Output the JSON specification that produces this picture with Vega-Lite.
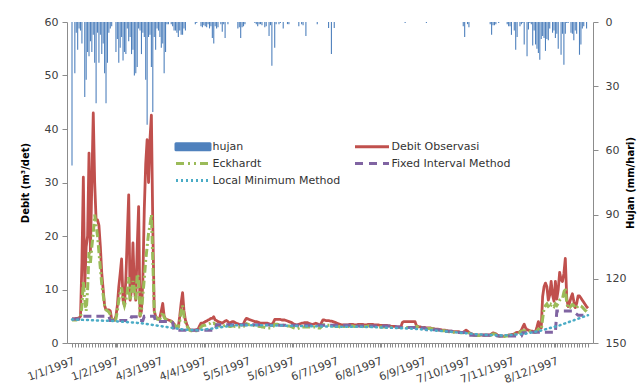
{
"$schema":"https://vega.github.io/schema/vega-lite/v6.json",
"width":526,"height":321,
"autosize":{"type":"none"},
"padding":{"left":67,"top":22,"right":48,"bottom":42},
"background":"white",
"config":{"view":{"stroke":null},"font":"DejaVu Sans","axis":{"labelFont":"DejaVu Sans","titleFont":"DejaVu Sans","grid":false,"domainColor":"#8c8c8c","tickColor":"#8c8c8c","labelColor":"#404040","labelFontSize":11}},
"data":{"values":[
{"d":1,"h":67,"o":4.5,"e":4.3,"f":4.5,"l":4.4},
{"d":2,"h":0,"o":4.5,"e":4.3,"f":4.5,"l":4.39},
{"d":3,"h":24,"o":4.5,"e":4.3,"f":4.5,"l":4.38},
{"d":4,"h":5,"o":4.6,"e":4.3,"f":4.5,"l":4.37},
{"d":5,"h":13,"o":4.6,"e":4.4,"f":4.5,"l":4.36},
{"d":6,"h":3,"o":4.7,"e":4.5,"f":4.5,"l":4.35},
{"d":7,"h":4,"o":5,"e":4.7,"f":4.5,"l":4.34},
{"d":8,"h":10,"o":15,"e":7,"f":4.5,"l":4.33},
{"d":9,"h":0,"o":31,"e":11.5,"f":5,"l":4.32},
{"d":10,"h":35,"o":10.5,"e":8,"f":5,"l":4.31},
{"d":11,"h":27,"o":18,"e":6,"f":5,"l":4.3},
{"d":12,"h":14,"o":20,"e":10,"f":5,"l":4.29},
{"d":13,"h":16,"o":35.5,"e":17,"f":5,"l":4.28},
{"d":14,"h":9,"o":17,"e":15,"f":5,"l":4.27},
{"d":15,"h":14,"o":30,"e":18,"f":5,"l":4.26},
{"d":16,"h":6,"o":43,"e":20.5,"f":5,"l":4.25},
{"d":17,"h":19,"o":30,"e":24,"f":5,"l":4.24},
{"d":18,"h":38,"o":23,"e":22,"f":5,"l":4.23},
{"d":19,"h":5,"o":23,"e":20,"f":5,"l":4.22},
{"d":20,"h":19,"o":22,"e":17,"f":5,"l":4.21},
{"d":21,"h":6,"o":18,"e":14,"f":5,"l":4.2},
{"d":22,"h":15,"o":13,"e":11,"f":5,"l":4.19},
{"d":23,"h":10,"o":10,"e":9,"f":5,"l":4.18},
{"d":24,"h":24,"o":7,"e":7,"f":5,"l":4.17},
{"d":25,"h":38,"o":6.2,"e":6.2,"f":5,"l":4.16},
{"d":26,"h":19,"o":6.2,"e":6,"f":5,"l":4.15},
{"d":27,"h":5,"o":6.2,"e":5.8,"f":5,"l":4.14},
{"d":28,"h":3,"o":6,"e":5.3,"f":4.2,"l":4.13},
{"d":29,"h":2,"o":4.5,"e":4.4,"f":4.2,"l":4.12},
{"d":30,"h":0,"o":4.3,"e":4.2,"f":4.2,"l":4.1},
{"d":31,"h":0,"o":4.3,"e":4.2,"f":4.2,"l":4.08},
{"d":32,"h":14,"o":5,"e":4.5,"f":4.2,"l":4.06},
{"d":33,"h":8,"o":7,"e":6,"f":4.2,"l":4.04},
{"d":34,"h":19,"o":10.5,"e":8,"f":4.2,"l":4.02},
{"d":35,"h":12,"o":13,"e":9.5,"f":4.2,"l":4},
{"d":36,"h":7,"o":15.7,"e":10.4,"f":4.2,"l":3.98},
{"d":37,"h":18,"o":8,"e":8,"f":4.2,"l":3.96},
{"d":38,"h":14,"o":7,"e":7,"f":4.2,"l":3.94},
{"d":39,"h":15,"o":12,"e":8,"f":4.2,"l":3.92},
{"d":40,"h":3,"o":20,"e":9.5,"f":4.2,"l":3.9},
{"d":41,"h":9,"o":27.7,"e":12.3,"f":4.2,"l":3.88},
{"d":42,"h":7,"o":8,"e":8,"f":4.2,"l":3.86},
{"d":43,"h":15,"o":10,"e":9.5,"f":4.9,"l":3.84},
{"d":44,"h":13,"o":18.7,"e":11.6,"f":4.9,"l":3.82},
{"d":45,"h":25,"o":10,"e":10,"f":4.9,"l":3.8},
{"d":46,"h":24,"o":8,"e":8,"f":4.9,"l":3.78},
{"d":47,"h":21,"o":18,"e":12.9,"f":4.9,"l":3.76},
{"d":48,"h":3,"o":25.5,"e":12,"f":4.9,"l":3.74},
{"d":49,"h":4,"o":5,"e":5,"f":4.2,"l":3.72},
{"d":50,"h":15,"o":6,"e":6,"f":4.2,"l":3.7},
{"d":51,"h":5,"o":12,"e":9,"f":4.2,"l":3.66},
{"d":52,"h":7,"o":25,"e":12,"f":5,"l":3.62},
{"d":53,"h":27,"o":33.5,"e":15.5,"f":5,"l":3.58},
{"d":54,"h":48,"o":38,"e":18,"f":5,"l":3.54},
{"d":55,"h":7,"o":30,"e":20.5,"f":5,"l":3.5},
{"d":56,"h":6,"o":38,"e":22,"f":5,"l":3.46},
{"d":57,"h":21,"o":42.6,"e":24,"f":5,"l":3.42},
{"d":58,"h":42,"o":22,"e":15.5,"f":5,"l":3.38},
{"d":59,"h":7,"o":6,"e":6,"f":5,"l":3.34},
{"d":60,"h":13,"o":5,"e":5,"f":4,"l":3.3},
{"d":61,"h":3,"o":4.5,"e":4.5,"f":4,"l":3.26},
{"d":62,"h":4,"o":4.5,"e":4.4,"f":4,"l":3.22},
{"d":63,"h":7,"o":4.8,"e":4.5,"f":4,"l":3.18},
{"d":64,"h":12,"o":6,"e":5,"f":4,"l":3.14},
{"d":65,"h":10,"o":7.4,"e":5.8,"f":4,"l":3.1},
{"d":66,"h":24,"o":5,"e":4.8,"f":4,"l":3.06},
{"d":67,"h":14,"o":4.5,"e":4.4,"f":4,"l":3.02},
{"d":68,"h":1,"o":4.4,"e":4.3,"f":4,"l":2.98},
{"d":69,"h":1,"o":4.3,"e":4.2,"f":4,"l":2.94},
{"d":70,"h":0,"o":4.2,"e":4.1,"f":4,"l":2.9},
{"d":71,"h":1,"o":4.1,"e":4,"f":4,"l":2.86},
{"d":72,"h":2,"o":3.9,"e":3.8,"f":3.8,"l":2.82},
{"d":73,"h":4,"o":3.5,"e":3.5,"f":2.4,"l":2.78},
{"d":74,"h":4,"o":3.2,"e":3.2,"f":2.4,"l":2.74},
{"d":75,"h":5,"o":3,"e":3,"f":2.4,"l":2.7},
{"d":76,"h":7,"o":3,"e":3,"f":2.4,"l":2.66},
{"d":77,"h":4,"o":5,"e":4,"f":2.4,"l":2.62},
{"d":78,"h":6,"o":7.5,"e":6,"f":2.4,"l":2.58},
{"d":79,"h":6,"o":9.4,"e":7,"f":2.4,"l":2.54},
{"d":80,"h":3,"o":6,"e":5,"f":2.4,"l":2.5},
{"d":81,"h":4,"o":4.3,"e":3.8,"f":2.4,"l":2.49},
{"d":82,"h":0,"o":3.5,"e":3.3,"f":2.4,"l":2.48},
{"d":83,"h":0,"o":2.8,"e":2.7,"f":2.4,"l":2.47},
{"d":84,"h":0,"o":2.5,"e":2.4,"f":2.4,"l":2.46},
{"d":85,"h":0,"o":2.4,"e":2.3,"f":2.4,"l":2.45},
{"d":86,"h":0,"o":2.4,"e":2.3,"f":2.4,"l":2.44},
{"d":87,"h":0,"o":2.4,"e":2.3,"f":2.4,"l":2.43},
{"d":88,"h":1,"o":2.4,"e":2.3,"f":2.4,"l":2.42},
{"d":89,"h":0.5,"o":2.5,"e":2.3,"f":2.4,"l":2.41},
{"d":90,"h":0,"o":2.6,"e":2.4,"f":2.4,"l":2.4},
{"d":91,"h":0,"o":3.2,"e":2.6,"f":2.4,"l":2.43},
{"d":92,"h":2,"o":3.7,"e":3,"f":2.4,"l":2.46},
{"d":93,"h":2.5,"o":3.7,"e":3.2,"f":2.4,"l":2.49},
{"d":94,"h":1.5,"o":3.8,"e":3.3,"f":2.4,"l":2.52},
{"d":95,"h":2,"o":4,"e":3.3,"f":2.4,"l":2.55},
{"d":96,"h":2.5,"o":4.1,"e":3.4,"f":2.4,"l":2.58},
{"d":97,"h":1,"o":4.3,"e":3.5,"f":2.4,"l":2.61},
{"d":98,"h":3,"o":4.4,"e":3.6,"f":2.4,"l":2.64},
{"d":99,"h":2,"o":4.6,"e":3.8,"f":2.4,"l":2.67},
{"d":100,"h":7.5,"o":4.6,"e":3.6,"f":2.4,"l":2.7},
{"d":101,"h":10,"o":4.9,"e":3.7,"f":2.4,"l":2.74},
{"d":102,"h":2,"o":4.3,"e":3.5,"f":2.4,"l":2.78},
{"d":103,"h":3,"o":4.2,"e":3.4,"f":3.4,"l":2.82},
{"d":104,"h":2.5,"o":4,"e":3.3,"f":3.4,"l":2.86},
{"d":105,"h":0,"o":3.9,"e":3.2,"f":3.4,"l":2.9},
{"d":106,"h":1,"o":3.8,"e":3.2,"f":3.4,"l":2.94},
{"d":107,"h":4.5,"o":3.7,"e":3.1,"f":3.4,"l":2.98},
{"d":108,"h":1,"o":3.9,"e":3.2,"f":3.4,"l":3.02},
{"d":109,"h":7.5,"o":4.1,"e":3.3,"f":3.4,"l":3.06},
{"d":110,"h":0,"o":4.2,"e":3.4,"f":3.4,"l":3.1},
{"d":111,"h":1,"o":4,"e":3.3,"f":3.4,"l":3.14},
{"d":112,"h":0,"o":3.7,"e":3.1,"f":3.4,"l":3.18},
{"d":113,"h":0,"o":3.8,"e":3.1,"f":3.4,"l":3.22},
{"d":114,"h":0,"o":4,"e":3.2,"f":3.4,"l":3.26},
{"d":115,"h":0,"o":4,"e":3.2,"f":3.4,"l":3.3},
{"d":116,"h":0,"o":3.8,"e":3.1,"f":3.4,"l":3.3},
{"d":117,"h":0,"o":3.7,"e":3.1,"f":3.4,"l":3.3},
{"d":118,"h":3,"o":3.6,"e":3,"f":3.4,"l":3.3},
{"d":119,"h":2.5,"o":3.5,"e":3,"f":3.4,"l":3.3},
{"d":120,"h":7.5,"o":3.4,"e":3,"f":3.4,"l":3.3},
{"d":121,"h":2.5,"o":3.4,"e":3,"f":3.4,"l":3.3},
{"d":122,"h":2,"o":3.6,"e":3.1,"f":3.4,"l":3.3},
{"d":123,"h":1,"o":4.2,"e":3.4,"f":3.4,"l":3.3},
{"d":124,"h":0,"o":4.6,"e":3.6,"f":3.4,"l":3.3},
{"d":125,"h":0,"o":4.5,"e":3.5,"f":3.4,"l":3.3},
{"d":126,"h":0,"o":4.4,"e":3.4,"f":3.4,"l":3.3},
{"d":127,"h":0,"o":4.3,"e":3.4,"f":3.4,"l":3.3},
{"d":128,"h":0,"o":4.2,"e":3.3,"f":3.4,"l":3.3},
{"d":129,"h":0,"o":4.1,"e":3.3,"f":3.4,"l":3.3},
{"d":130,"h":0.5,"o":4,"e":3.2,"f":3.4,"l":3.3},
{"d":131,"h":1,"o":4,"e":3.2,"f":3.4,"l":3.3},
{"d":132,"h":2,"o":3.9,"e":3.2,"f":3.4,"l":3.3},
{"d":133,"h":1,"o":3.8,"e":3.1,"f":3.4,"l":3.3},
{"d":134,"h":1,"o":3.7,"e":3.1,"f":3.4,"l":3.3},
{"d":135,"h":1.5,"o":3.7,"e":3,"f":3.4,"l":3.3},
{"d":136,"h":0,"o":3.7,"e":3,"f":3.4,"l":3.3},
{"d":137,"h":2.5,"o":3.7,"e":2.9,"f":3.4,"l":3.3},
{"d":138,"h":2,"o":3.7,"e":2.8,"f":3.4,"l":3.3},
{"d":139,"h":0,"o":3.7,"e":2.8,"f":3.4,"l":3.3},
{"d":140,"h":6.5,"o":3.6,"e":2.8,"f":3.4,"l":3.3},
{"d":141,"h":1.5,"o":3.5,"e":2.8,"f":3.3,"l":3.29},
{"d":142,"h":20.5,"o":3.5,"e":2.8,"f":3.3,"l":3.29},
{"d":143,"h":0,"o":3.8,"e":3.1,"f":3.3,"l":3.29},
{"d":144,"h":12,"o":4.4,"e":3.5,"f":3.3,"l":3.29},
{"d":145,"h":1,"o":4.4,"e":3.5,"f":3.3,"l":3.29},
{"d":146,"h":0,"o":4.4,"e":3.5,"f":3.3,"l":3.26},
{"d":147,"h":1,"o":4.4,"e":3.4,"f":3.3,"l":3.26},
{"d":148,"h":0.5,"o":4.4,"e":3.4,"f":3.3,"l":3.26},
{"d":149,"h":0,"o":4.3,"e":3.4,"f":3.3,"l":3.26},
{"d":150,"h":3,"o":4.3,"e":3.3,"f":3.3,"l":3.26},
{"d":151,"h":0,"o":4.3,"e":3.3,"f":3.3,"l":3.23},
{"d":152,"h":0,"o":4.2,"e":3.3,"f":3.3,"l":3.23},
{"d":153,"h":1,"o":4.1,"e":3.2,"f":3.3,"l":3.23},
{"d":154,"h":1,"o":4,"e":3.2,"f":3.3,"l":3.23},
{"d":155,"h":0,"o":3.9,"e":3.1,"f":3.3,"l":3.23},
{"d":156,"h":0,"o":3.8,"e":3,"f":3.3,"l":3.2},
{"d":157,"h":0,"o":3.6,"e":2.9,"f":3.3,"l":3.2},
{"d":158,"h":0,"o":3.5,"e":2.8,"f":3.3,"l":3.2},
{"d":159,"h":0,"o":3.4,"e":2.7,"f":3.3,"l":3.2},
{"d":160,"h":0,"o":3.4,"e":2.7,"f":3.3,"l":3.2},
{"d":161,"h":2,"o":3.5,"e":2.8,"f":3.3,"l":3.17},
{"d":162,"h":0,"o":3.6,"e":2.9,"f":3.3,"l":3.17},
{"d":163,"h":1,"o":3.7,"e":3,"f":3.3,"l":3.17},
{"d":164,"h":1.5,"o":3.7,"e":3,"f":3.3,"l":3.17},
{"d":165,"h":0,"o":3.8,"e":3,"f":3.3,"l":3.17},
{"d":166,"h":6.5,"o":3.8,"e":3,"f":3.3,"l":3.14},
{"d":167,"h":0,"o":3.8,"e":3,"f":3.3,"l":3.14},
{"d":168,"h":0,"o":3.7,"e":3,"f":3.3,"l":3.14},
{"d":169,"h":0,"o":3.6,"e":3,"f":3.3,"l":3.14},
{"d":170,"h":0,"o":3.5,"e":2.9,"f":3.3,"l":3.14},
{"d":171,"h":0,"o":3.5,"e":2.9,"f":3.3,"l":3.11},
{"d":172,"h":0,"o":3.6,"e":3,"f":3.3,"l":3.11},
{"d":173,"h":0,"o":3.7,"e":3,"f":3.3,"l":3.11},
{"d":174,"h":1,"o":3.6,"e":2.9,"f":3.3,"l":3.11},
{"d":175,"h":0,"o":3.4,"e":2.8,"f":3.3,"l":3.11},
{"d":176,"h":0,"o":3.4,"e":2.8,"f":3.3,"l":3.11},
{"d":177,"h":0,"o":3.8,"e":3.1,"f":3.3,"l":3.09},
{"d":178,"h":0,"o":4.3,"e":3.4,"f":3.3,"l":3.09},
{"d":179,"h":0,"o":4.3,"e":3.4,"f":3.3,"l":3.09},
{"d":180,"h":0,"o":4.2,"e":3.3,"f":3.3,"l":3.09},
{"d":181,"h":0,"o":4.2,"e":3.3,"f":3.3,"l":3.09},
{"d":182,"h":2.8,"o":4.2,"e":3.3,"f":3.3,"l":3.09},
{"d":183,"h":0,"o":4.1,"e":3.3,"f":3.3,"l":3.09},
{"d":184,"h":15,"o":4.1,"e":3.2,"f":3.3,"l":3.09},
{"d":185,"h":0,"o":4,"e":3.2,"f":3.3,"l":3.09},
{"d":186,"h":2.8,"o":3.9,"e":3.2,"f":3.3,"l":3.06},
{"d":187,"h":0,"o":3.8,"e":3.1,"f":3.3,"l":3.06},
{"d":188,"h":0,"o":3.7,"e":3.1,"f":3.3,"l":3.06},
{"d":189,"h":0,"o":3.6,"e":3.1,"f":3.3,"l":3.06},
{"d":190,"h":0,"o":3.5,"e":3,"f":3.3,"l":3.06},
{"d":191,"h":0,"o":3.4,"e":3,"f":3.3,"l":3.06},
{"d":192,"h":0,"o":3.4,"e":3.1,"f":3.3,"l":3.06},
{"d":193,"h":0,"o":3.4,"e":3.1,"f":3.3,"l":3.06},
{"d":194,"h":0,"o":3.4,"e":3.1,"f":3.3,"l":3.06},
{"d":195,"h":0,"o":3.4,"e":3.1,"f":3.3,"l":3.06},
{"d":196,"h":0,"o":3.4,"e":3.1,"f":3.3,"l":3.03},
{"d":197,"h":0,"o":3.5,"e":3.2,"f":3.3,"l":3.03},
{"d":198,"h":0,"o":3.5,"e":3.2,"f":3.3,"l":3.03},
{"d":199,"h":0,"o":3.5,"e":3.2,"f":3.3,"l":3.03},
{"d":200,"h":0,"o":3.4,"e":3.1,"f":3.3,"l":3.03},
{"d":201,"h":0,"o":3.4,"e":3.1,"f":3.2,"l":3.03},
{"d":202,"h":0,"o":3.4,"e":3.1,"f":3.2,"l":3.03},
{"d":203,"h":0,"o":3.5,"e":3.2,"f":3.2,"l":3.03},
{"d":204,"h":0,"o":3.5,"e":3.2,"f":3.2,"l":3.03},
{"d":205,"h":0,"o":3.5,"e":3.2,"f":3.2,"l":3.03},
{"d":206,"h":0,"o":3.5,"e":3.2,"f":3.2,"l":3},
{"d":207,"h":0,"o":3.4,"e":3.1,"f":3.2,"l":3},
{"d":208,"h":0,"o":3.4,"e":3.1,"f":3.2,"l":3},
{"d":209,"h":0,"o":3.4,"e":3.1,"f":3.2,"l":3},
{"d":210,"h":0,"o":3.5,"e":3.2,"f":3.2,"l":3},
{"d":211,"h":0,"o":3.5,"e":3.2,"f":3.2,"l":2.99},
{"d":212,"h":0,"o":3.5,"e":3.2,"f":3.2,"l":2.98},
{"d":213,"h":0,"o":3.5,"e":3.2,"f":3.2,"l":2.97},
{"d":214,"h":0,"o":3.4,"e":3.1,"f":3.2,"l":2.96},
{"d":215,"h":0,"o":3.4,"e":3.1,"f":3.2,"l":2.95},
{"d":216,"h":0,"o":3.4,"e":3.1,"f":3.2,"l":2.94},
{"d":217,"h":0,"o":3.4,"e":3.1,"f":3.2,"l":2.93},
{"d":218,"h":0,"o":3.3,"e":3,"f":3.2,"l":2.92},
{"d":219,"h":0,"o":3.3,"e":3,"f":3.2,"l":2.91},
{"d":220,"h":0,"o":3.3,"e":3,"f":3.2,"l":2.9},
{"d":221,"h":0,"o":3.3,"e":3,"f":3.2,"l":2.89},
{"d":222,"h":0,"o":3.3,"e":3,"f":3.2,"l":2.88},
{"d":223,"h":0,"o":3.3,"e":3,"f":3.2,"l":2.87},
{"d":224,"h":0,"o":3.2,"e":3,"f":3.2,"l":2.86},
{"d":225,"h":0,"o":3.2,"e":3,"f":3.2,"l":2.85},
{"d":226,"h":0,"o":3.1,"e":2.9,"f":3.1,"l":2.84},
{"d":227,"h":0,"o":3.1,"e":2.9,"f":3.1,"l":2.83},
{"d":228,"h":0,"o":3.1,"e":2.9,"f":3.1,"l":2.82},
{"d":229,"h":0,"o":3.1,"e":2.9,"f":3.1,"l":2.81},
{"d":230,"h":0,"o":3,"e":2.9,"f":3,"l":2.8},
{"d":231,"h":0,"o":3,"e":2.9,"f":3,"l":2.79},
{"d":232,"h":0,"o":3,"e":2.9,"f":3,"l":2.78},
{"d":233,"h":0,"o":3,"e":2.9,"f":2.9,"l":2.77},
{"d":234,"h":0,"o":3.8,"e":2.9,"f":2.9,"l":2.76},
{"d":235,"h":0,"o":4,"e":2.9,"f":2.9,"l":2.75},
{"d":236,"h":0.5,"o":4,"e":2.9,"f":2.9,"l":2.74},
{"d":237,"h":0,"o":4,"e":2.9,"f":2.9,"l":2.73},
{"d":238,"h":0,"o":4,"e":2.9,"f":2.9,"l":2.72},
{"d":239,"h":0,"o":4,"e":2.9,"f":2.9,"l":2.71},
{"d":240,"h":0,"o":4,"e":2.9,"f":2.9,"l":2.7},
{"d":241,"h":0,"o":4,"e":2.9,"f":2.9,"l":2.68},
{"d":242,"h":0,"o":4,"e":2.9,"f":2.9,"l":2.66},
{"d":243,"h":0,"o":4,"e":2.9,"f":2.9,"l":2.64},
{"d":244,"h":0,"o":3.2,"e":3.1,"f":2.9,"l":2.61},
{"d":245,"h":0,"o":3.1,"e":3,"f":2.9,"l":2.59},
{"d":246,"h":0,"o":3,"e":2.9,"f":2.9,"l":2.57},
{"d":247,"h":0,"o":3,"e":2.9,"f":2.9,"l":2.55},
{"d":248,"h":0,"o":2.9,"e":2.8,"f":2.8,"l":2.53},
{"d":249,"h":0,"o":2.9,"e":2.8,"f":2.8,"l":2.51},
{"d":250,"h":0,"o":2.9,"e":2.8,"f":2.8,"l":2.49},
{"d":251,"h":0.5,"o":2.8,"e":2.7,"f":2.5,"l":2.46},
{"d":252,"h":0,"o":2.8,"e":2.7,"f":2.5,"l":2.44},
{"d":253,"h":0,"o":2.8,"e":2.7,"f":2.5,"l":2.42},
{"d":254,"h":0,"o":2.8,"e":2.7,"f":2.5,"l":2.4},
{"d":255,"h":0,"o":2.7,"e":2.6,"f":2.5,"l":2.38},
{"d":256,"h":0,"o":2.7,"e":2.6,"f":2.5,"l":2.36},
{"d":257,"h":0,"o":2.6,"e":2.5,"f":2.5,"l":2.34},
{"d":258,"h":0,"o":2.6,"e":2.5,"f":2.5,"l":2.31},
{"d":259,"h":0,"o":2.6,"e":2.5,"f":2.5,"l":2.29},
{"d":260,"h":0,"o":2.5,"e":2.4,"f":2.5,"l":2.27},
{"d":261,"h":0,"o":2.5,"e":2.4,"f":2.2,"l":2.25},
{"d":262,"h":0,"o":2.4,"e":2.3,"f":2.2,"l":2.23},
{"d":263,"h":0,"o":2.4,"e":2.3,"f":2.2,"l":2.21},
{"d":264,"h":0,"o":2.4,"e":2.3,"f":2.2,"l":2.19},
{"d":265,"h":0,"o":2.3,"e":2.2,"f":2.2,"l":2.16},
{"d":266,"h":0,"o":2.3,"e":2.2,"f":2.2,"l":2.14},
{"d":267,"h":0,"o":2.2,"e":2.1,"f":2.2,"l":2.12},
{"d":268,"h":0,"o":2.2,"e":2.1,"f":2.2,"l":2.1},
{"d":269,"h":0,"o":2.2,"e":2.1,"f":2.2,"l":2.07},
{"d":270,"h":0,"o":2.1,"e":2,"f":2.1,"l":2.05},
{"d":271,"h":0,"o":2.1,"e":2,"f":1.95,"l":2.02},
{"d":272,"h":0,"o":2.1,"e":2,"f":1.95,"l":2},
{"d":273,"h":0,"o":2.1,"e":2,"f":1.95,"l":1.97},
{"d":274,"h":0,"o":2.1,"e":2,"f":1.95,"l":1.94},
{"d":275,"h":0,"o":2,"e":1.9,"f":1.95,"l":1.92},
{"d":276,"h":0,"o":2,"e":1.9,"f":1.95,"l":1.89},
{"d":277,"h":2,"o":2,"e":1.9,"f":1.95,"l":1.87},
{"d":278,"h":7,"o":2.2,"e":2,"f":1.95,"l":1.84},
{"d":279,"h":0,"o":2.4,"e":2.1,"f":1.95,"l":1.81},
{"d":280,"h":1,"o":2.2,"e":2.1,"f":1.95,"l":1.79},
{"d":281,"h":2.5,"o":2,"e":1.9,"f":1.45,"l":1.76},
{"d":282,"h":0,"o":1.8,"e":1.7,"f":1.45,"l":1.73},
{"d":283,"h":0,"o":1.7,"e":1.6,"f":1.45,"l":1.71},
{"d":284,"h":0,"o":1.6,"e":1.5,"f":1.45,"l":1.68},
{"d":285,"h":0,"o":1.5,"e":1.4,"f":1.45,"l":1.66},
{"d":286,"h":0,"o":1.5,"e":1.4,"f":1.45,"l":1.63},
{"d":287,"h":0,"o":1.5,"e":1.4,"f":1.45,"l":1.6},
{"d":288,"h":0,"o":1.5,"e":1.4,"f":1.45,"l":1.59},
{"d":289,"h":0,"o":1.5,"e":1.4,"f":1.45,"l":1.58},
{"d":290,"h":0,"o":1.5,"e":1.4,"f":1.45,"l":1.57},
{"d":291,"h":0,"o":1.5,"e":1.4,"f":1.45,"l":1.56},
{"d":292,"h":0,"o":1.5,"e":1.4,"f":1.45,"l":1.54},
{"d":293,"h":0,"o":1.5,"e":1.4,"f":1.45,"l":1.53},
{"d":294,"h":0,"o":1.5,"e":1.4,"f":1.45,"l":1.52},
{"d":295,"h":0,"o":1.5,"e":1.4,"f":1.45,"l":1.51},
{"d":296,"h":1,"o":1.5,"e":1.4,"f":1.45,"l":1.5},
{"d":297,"h":6,"o":1.7,"e":1.5,"f":1.45,"l":1.49},
{"d":298,"h":1.5,"o":1.9,"e":1.7,"f":1.45,"l":1.48},
{"d":299,"h":1.5,"o":1.8,"e":1.7,"f":1.45,"l":1.47},
{"d":300,"h":1,"o":1.7,"e":1.6,"f":1.45,"l":1.46},
{"d":301,"h":0,"o":1.5,"e":1.4,"f":1.3,"l":1.45},
{"d":302,"h":0.5,"o":1.4,"e":1.3,"f":1.3,"l":1.44},
{"d":303,"h":0,"o":1.3,"e":1.2,"f":1.3,"l":1.43},
{"d":304,"h":0,"o":1.3,"e":1.2,"f":1.3,"l":1.42},
{"d":305,"h":0,"o":1.3,"e":1.2,"f":1.3,"l":1.4},
{"d":306,"h":0,"o":1.3,"e":1.2,"f":1.3,"l":1.42},
{"d":307,"h":0,"o":1.4,"e":1.3,"f":1.3,"l":1.44},
{"d":308,"h":1,"o":1.4,"e":1.3,"f":1.3,"l":1.46},
{"d":309,"h":2,"o":1.5,"e":1.4,"f":1.3,"l":1.48},
{"d":310,"h":2,"o":1.5,"e":1.4,"f":1.3,"l":1.5},
{"d":311,"h":6,"o":1.6,"e":1.5,"f":1.3,"l":1.52},
{"d":312,"h":0,"o":1.6,"e":1.5,"f":1.3,"l":1.54},
{"d":313,"h":4,"o":1.7,"e":1.6,"f":1.3,"l":1.56},
{"d":314,"h":13,"o":1.9,"e":1.8,"f":1.3,"l":1.58},
{"d":315,"h":7,"o":2,"e":1.9,"f":1.3,"l":1.6},
{"d":316,"h":0,"o":2,"e":1.9,"f":1.3,"l":1.62},
{"d":317,"h":2,"o":2.1,"e":2,"f":1.3,"l":1.64},
{"d":318,"h":1,"o":2.4,"e":2.2,"f":1.3,"l":1.66},
{"d":319,"h":0.5,"o":3,"e":2.3,"f":1.9,"l":1.68},
{"d":320,"h":10.5,"o":3.5,"e":2.3,"f":1.9,"l":1.7},
{"d":321,"h":0,"o":2.8,"e":2.3,"f":1.9,"l":1.75},
{"d":322,"h":16,"o":2.5,"e":2.3,"f":1.9,"l":1.8},
{"d":323,"h":3.5,"o":2.4,"e":2.3,"f":1.9,"l":1.85},
{"d":324,"h":0.5,"o":2.3,"e":2.2,"f":1.9,"l":1.9},
{"d":325,"h":1,"o":2.2,"e":2.1,"f":1.9,"l":1.95},
{"d":326,"h":11,"o":2.2,"e":2.1,"f":2,"l":2},
{"d":327,"h":4,"o":2.1,"e":2,"f":2,"l":2.05},
{"d":328,"h":10.5,"o":2.1,"e":2,"f":2,"l":2.1},
{"d":329,"h":12.5,"o":3,"e":2.3,"f":2,"l":2.15},
{"d":330,"h":14.5,"o":4,"e":2.6,"f":2,"l":2.2},
{"d":331,"h":17.6,"o":3,"e":2.5,"f":2,"l":2.27},
{"d":332,"h":8,"o":2.8,"e":2.5,"f":2,"l":2.35},
{"d":333,"h":6.5,"o":8.7,"e":4.5,"f":2,"l":2.42},
{"d":334,"h":7.5,"o":10.5,"e":6.5,"f":2,"l":2.49},
{"d":335,"h":13.5,"o":11.2,"e":7,"f":2,"l":2.57},
{"d":336,"h":8,"o":10.5,"e":7.3,"f":2,"l":2.64},
{"d":337,"h":8.5,"o":8,"e":6.8,"f":2,"l":2.71},
{"d":338,"h":3,"o":9,"e":6.5,"f":2,"l":2.79},
{"d":339,"h":0,"o":11.5,"e":7.2,"f":2,"l":2.86},
{"d":340,"h":5,"o":9,"e":7,"f":2,"l":2.93},
{"d":341,"h":4,"o":7.8,"e":6.8,"f":2,"l":3.01},
{"d":342,"h":7.5,"o":11.5,"e":7.3,"f":2,"l":3.08},
{"d":343,"h":5.5,"o":8.2,"e":7,"f":6,"l":3.15},
{"d":344,"h":12.5,"o":10,"e":7.4,"f":6,"l":3.23},
{"d":345,"h":0,"o":13.2,"e":8,"f":6,"l":3.3},
{"d":346,"h":15.3,"o":11.8,"e":8.2,"f":6,"l":3.4},
{"d":347,"h":5.5,"o":11.5,"e":8.3,"f":6,"l":3.49},
{"d":348,"h":20,"o":13,"e":9.5,"f":6,"l":3.59},
{"d":349,"h":5.5,"o":15.8,"e":10.3,"f":6,"l":3.68},
{"d":350,"h":0.5,"o":8.4,"e":7.5,"f":6,"l":3.78},
{"d":351,"h":0.5,"o":6.8,"e":6.5,"f":6,"l":3.87},
{"d":352,"h":0,"o":7.5,"e":6.6,"f":6,"l":3.97},
{"d":353,"h":5,"o":8.5,"e":6.9,"f":6,"l":4.06},
{"d":354,"h":5.5,"o":9.2,"e":7.2,"f":6,"l":4.16},
{"d":355,"h":8.5,"o":7.8,"e":7,"f":5.8,"l":4.25},
{"d":356,"h":4,"o":6.6,"e":6.5,"f":5.6,"l":4.35},
{"d":357,"h":5.5,"o":7.4,"e":6.6,"f":5.4,"l":4.44},
{"d":358,"h":0,"o":8.8,"e":6.9,"f":5.2,"l":4.54},
{"d":359,"h":15.3,"o":8.8,"e":7,"f":5.2,"l":4.63},
{"d":360,"h":10.5,"o":8.4,"e":6.9,"f":5.2,"l":4.73},
{"d":361,"h":3,"o":8,"e":6.7,"f":5.2,"l":4.82},
{"d":362,"h":2,"o":7.6,"e":6.4,"f":5.2,"l":4.92},
{"d":363,"h":0,"o":7.2,"e":6.1,"f":5.2,"l":5.01},
{"d":364,"h":3,"o":6.8,"e":5.9,"f":5.2,"l":5.11},
{"d":365,"h":0,"o":6.5,"e":5.6,"f":5.2,"l":5.2}
]},
"encoding":{"x":{"field":"d","type":"quantitative","scale":{"domain":[1,365],"nice":false,"zero":false},
"axis":{"title":null,"values":[1,3,5,7,9,11,13,15,17,19,21,23,25,27,29,31,32,33,35,37,39,41,43,45,47,49,51,53,55,57,59,61,63,65,67,69,71,73,75,77,79,81,83,85,87,89,91,93,94,95,97,99,101,103,105,107,109,111,113,115,117,119,121,123,125,127,129,131,133,135,137,139,141,143,145,147,149,151,153,155,156,157,159,161,163,165,167,169,171,173,175,177,179,181,183,185,187,189,191,193,195,197,199,201,203,205,207,209,211,213,215,217,218,219,221,223,225,227,229,231,233,235,237,239,241,243,245,247,249,251,253,255,257,259,261,263,265,267,269,271,273,275,277,279,280,281,283,285,287,289,291,293,295,297,299,301,303,305,307,309,311,313,315,317,319,321,323,325,327,329,331,333,335,337,339,341,342,343,345,347,349,351,353,355,357,359,361,363,365],
"labelExpr":"indexof([1,32,63,94,125,156,187,218,249,280,311,342], datum.value) >= 0 ? timeFormat(datetime(1997,0,datum.value),'%-d/%-m/%Y') : ''",
"labelAngle":-20,"labelOverlap":false,"labelFlush":false,"labelFontSize":11,"tickSize":4,"labelPadding":8}}},
"layer":[
{"mark":{"type":"bar","orient":"vertical","width":1.1},
"encoding":{
"y":{"field":"h","type":"quantitative","scale":{"domain":[0,150],"reverse":true,"nice":false,"zero":true},
"axis":{"orient":"right","values":[0,30,60,90,120,150],"title":"Hujan (mm/hari)","titleAngle":270,"titleFontWeight":"bold","titleFontSize":10,"titleColor":"#000","tickSize":5,"labelPadding":7,"titlePadding":10}},
"color":{"datum":"hujan","type":"nominal","scale":{"domain":["hujan","Eckhardt","Local Minimum Method","Debit Observasi","Fixed Interval Method"],"range":["#4F81BD","#9BBB59","#4BACC6","#C0504D","#8064A2"]},
"legend":{"title":null,"orient":"none","legendX":107.5,"legendY":118,"columns":2,"columnPadding":13,"rowPadding":5,"symbolType":"M-1,0H5.8","symbolStrokeWidth":3,"labelFont":"DejaVu Sans","labelFontSize":11,"labelColor":"#333","labelOffset":25,
"encode":{"symbols":{"update":{"shape":{"signal":"datum.value==='hujan' ? 'M-1,-0.6H5.8V0.6H-1Z' : 'M-1,0H5.8'"},"fill":{"signal":"datum.value==='hujan' ? scale('color', datum.value) : null"},"stroke":{"signal":"datum.value==='hujan' ? null : scale('color', datum.value)"},"strokeWidth":{"value":3},"strokeJoin":{"value":"round"},"strokeDash":{"signal":"datum.value==='Eckhardt' ? [8,4,2,4,2,4] : datum.value==='Fixed Interval Method' ? [8,6] : datum.value==='Local Minimum Method' ? [2,3] : []"}}}}}}}},
{"layer":[
{"mark":{"type":"line","strokeWidth":2.8,"strokeJoin":"round"},
"encoding":{"y":{"field":"o","type":"quantitative","scale":{"domain":[0,60],"nice":false},"title":"Debit (m³/det)",
"axis":{"values":[0,10,20,30,40,50,60],"titleFontWeight":"bold","titleFontSize":10,"titleColor":"#000","tickSize":5,"labelPadding":4,"titlePadding":14}},
"color":{"datum":"Debit Observasi","type":"nominal"}}},
{"mark":{"type":"line","strokeWidth":3,"strokeDash":[8,3,2,3]},
"encoding":{"y":{"field":"e","type":"quantitative","title":"Debit (m³/det)"},"color":{"datum":"Eckhardt","type":"nominal"}}},
{"mark":{"type":"line","strokeWidth":3,"strokeDash":[8,5]},
"encoding":{"y":{"field":"f","type":"quantitative","title":"Debit (m³/det)"},"color":{"datum":"Fixed Interval Method","type":"nominal"}}},
{"mark":{"type":"line","strokeWidth":2.5,"strokeDash":[1,4],"strokeCap":"round"},
"encoding":{"y":{"field":"l","type":"quantitative","title":"Debit (m³/det)"},"color":{"datum":"Local Minimum Method","type":"nominal"}}}
]}
],
"resolve":{"scale":{"y":"independent"}}
}
